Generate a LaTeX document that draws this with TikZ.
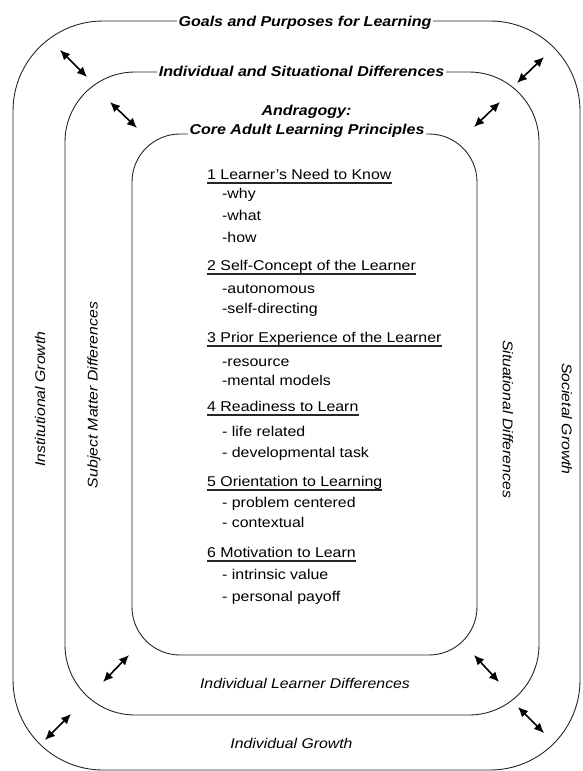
\documentclass[tikz,border=0pt]{standalone}
\usepackage{fontspec}
\setmainfont{Liberation Sans}[FakeStretch=1.12]
\usetikzlibrary{arrows.meta}
\newcommand{\listfont}{\fontsize{14.2}{17}\selectfont}
\newcommand{\titlefont}{\fontsize{14.3}{17}\selectfont\bfseries\itshape}
\newcommand{\ringfont}{\fontsize{14.1}{17}\selectfont\itshape}

\begin{document}
\begin{tikzpicture}[
		x=1pt, y=-1pt,
		box/.style={draw=black!85, line width=0.9pt, inner sep=0pt},
		title/.style={font=\titlefont, fill=white, inner sep=0pt, inner xsep=2pt, anchor=base},
		ring/.style={font=\ringfont, inner sep=0pt},
		head/.style={font=\listfont, inner sep=0pt, anchor=base west},
		item/.style={font=\listfont, inner sep=0pt, anchor=base west},
		uline/.style={line width=1.8pt, draw=black!85},
		twoway/.style={<->, >={Latex[length=10pt,width=9pt]}, line width=1.6pt}
	]
		\useasboundingbox (0,0) rectangle (582,771);
		% the three rings
		\node[box, rounded corners=90pt, minimum width=567pt, minimum height=749pt] (outer) at (296.5,395.5) {};
		\node[box, rounded corners=70pt, minimum width=474pt, minimum height=643pt] (middle) at (302,393.5) {};
		\node[box, rounded corners=48pt, minimum width=345pt, minimum height=521pt] (inner) at (304.5,394.5) {};

		% ring titles
		\node[title] (goals) at (305,26) {Goals and Purposes for Learning};
		\node[title] (indsit) at (301.5,76.5) {Individual and Situational Differences};
		\node[title, fill=none] (andra) at (306.5,115) {Andragogy:};
		\node[title] (core) at (307,134) {Core Adult Learning Principles};

		% side labels
		\node[ring, rotate=90] (instgr) at (40,399) {Institutional Growth};
		\node[ring, rotate=90] (subjdiff) at (94,395) {Subject Matter Differences};
		\node[ring, rotate=-90] (situdiff) at (508,419) {Situational Differences};
		\node[ring, rotate=-90] (socgr) at (567,419) {Societal Growth};
		\node[ring, anchor=base] (learndiff) at (305,688) {Individual Learner Differences};
		\node[ring, anchor=base] (indgr) at (291.5,748) {Individual Growth};

		% principles
		\node[head] (p1) at (207,179) {1 Learner's Need to Know};
		\node[item] (p1a) at (222,198) {-why};
		\node[item] (p1b) at (222,220) {-what};
		\node[item] (p1c) at (222,242) {-how};
		\node[head] (p2) at (207,270) {2 Self-Concept of the Learner};
		\node[item] (p2a) at (222,293) {-autonomous};
		\node[item] (p2b) at (222,313) {-self-directing};
		\node[head] (p3) at (207,342) {3 Prior Experience of the Learner};
		\node[item] (p3a) at (222,366) {-resource};
		\node[item] (p3b) at (222,385) {-mental models};
		\node[head] (p4) at (207,411) {4 Readiness to Learn};
		\node[item] (p4a) at (222,436) {- life related};
		\node[item] (p4b) at (222,457) {- developmental task};
		\node[head] (p5) at (207,486) {5 Orientation to Learning};
		\node[item] (p5a) at (222,507) {- problem centered};
		\node[item] (p5b) at (222,527) {- contextual};
		\node[head] (p6) at (207,557) {6 Motivation to Learn};
		\node[item] (p6a) at (222,579) {- intrinsic value};
		\node[item] (p6b) at (222,601) {- personal payoff};
		\foreach \p in {p1,p2,p3,p4,p5,p6}
			\draw[uline] ([yshift=-4pt]\p.base west) -- ([yshift=-4pt]\p.base east);

		% arrows between the rings
		\coordinate (otl) at (60,50);   \coordinate (otl') at (87,77);
		\coordinate (mtl) at (110,102); \coordinate (mtl') at (137,128);
		\coordinate (otr) at (517,83);  \coordinate (otr') at (544,57);
		\coordinate (mtr) at (474,127); \coordinate (mtr') at (500,102);
		\coordinate (mbl) at (103,682); \coordinate (mbl') at (129,655);
		\coordinate (obl) at (45,740);  \coordinate (obl') at (71,714);
		\coordinate (mbr) at (474,655); \coordinate (mbr') at (499,682);
		\coordinate (obr) at (518,707); \coordinate (obr') at (544,733);
		\draw[twoway] (otl) -- (otl');
		\draw[twoway] (mtl) -- (mtl');
		\draw[twoway] (otr) -- (otr');
		\draw[twoway] (mtr) -- (mtr');
		\draw[twoway] (mbl) -- (mbl');
		\draw[twoway] (obl) -- (obl');
		\draw[twoway] (mbr) -- (mbr');
		\draw[twoway] (obr) -- (obr');
	\end{tikzpicture}
\end{document}
